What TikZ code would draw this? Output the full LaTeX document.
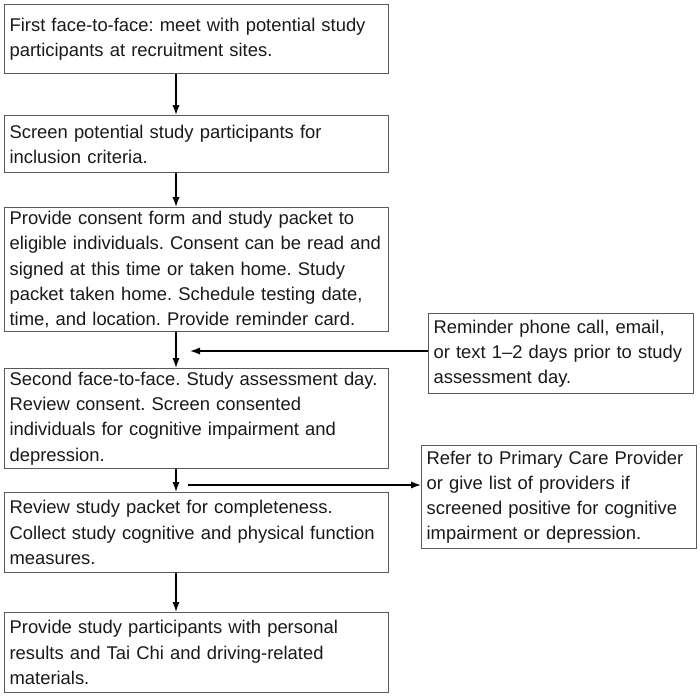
\documentclass[tikz,border=0pt]{standalone}
\usepackage{fontspec}
\setmainfont{Liberation Sans}
\usetikzlibrary{arrows.meta}
\begin{document}
\frenchspacing
\begin{tikzpicture}[>={Latex[length=5pt,width=3.6pt]}, x=0.5pt, y=-0.5pt,
    stage/.style={draw=black!65, line width=0.6pt, anchor=north west, align=left,
        inner xsep=2.5pt, inner ysep=0pt, text=black!90,
        font=\fontsize{9.2pt}{12.6pt}\selectfont\frenchspacing},
    wide/.style={stage, text width=187pt},
    link/.style={->, line width=0.7pt}]
    \useasboundingbox (0,0) rectangle (700,697);

    % main column
    \node[wide, minimum height=34.5pt] (first) at (4,4)
        {First face-to-face: meet with potential study\\participants at recruitment sites.};
    \node[wide, minimum height=28.5pt] (screen) at (4,115)
        {Screen potential study participants for\\inclusion criteria.};
    \node[wide, minimum height=62pt] (consent) at (4,207)
        {Provide consent form and study packet to\\eligible individuals. Consent can be read and\\signed at this time or taken home. Study\\packet taken home. Schedule testing date,\\time, and location. Provide reminder card.};
    \node[wide, minimum height=50pt] (second) at (4,368)
        {Second face-to-face. Study assessment day.\\Review consent. Screen consented\\individuals for cognitive impairment and\\depression.};
    \node[wide, minimum height=40pt] (review) at (4,492)
        {Review study packet for completeness.\\Collect study cognitive and physical function\\measures.};
    \node[wide, minimum height=40pt] (results) at (4,612)
        {Provide study participants with personal\\results and Tai Chi and driving-related\\materials.};

    % side boxes
    \node[stage, text width=127.5pt, minimum height=40pt] (remind) at (428,313)
        {Reminder phone call, email,\\or text 1--2 days prior to study\\assessment day.};
    \node[stage, text width=132.5pt, minimum height=51.5pt] (refer) at (421,445)
        {Refer to Primary Care Provider\\or give list of providers if\\screened positive for cognitive\\impairment or depression.};

    \coordinate (axis) at (176,0);
    \foreach \a/\b in {first/screen, screen/consent, consent/second, second/review, review/results}
        \draw[link] (\a.south -| axis) -- (\b.north -| axis);

    \coordinate (back) at (190,351);
    \draw[link] (remind.west |- back) -- (back);
    \coordinate (out) at (188,485);
    \draw[link] (out) -- (refer.west |- out);
\end{tikzpicture}
\end{document}
